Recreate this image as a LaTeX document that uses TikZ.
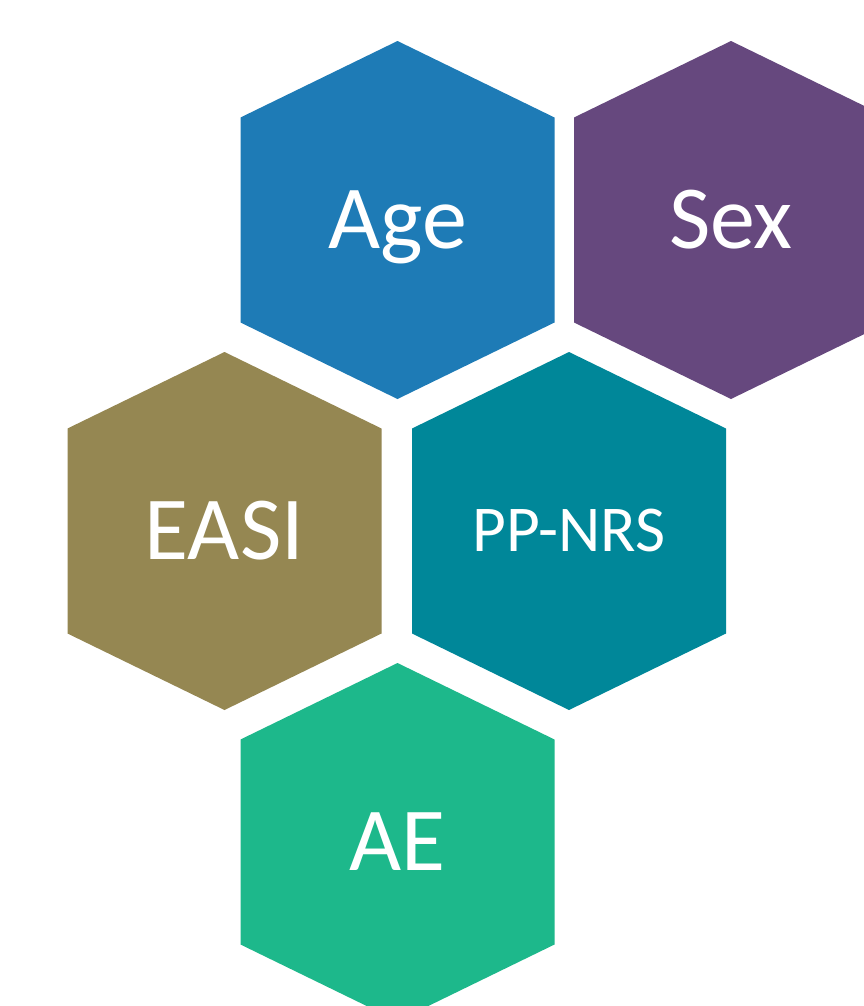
\documentclass[tikz,border=0pt]{standalone}
\usepackage{fontspec}
\setmainfont{Carlito}
\definecolor{ageblue}{HTML}{1E7BB6}
\definecolor{sexpurple}{HTML}{66487E}
\definecolor{easiolive}{HTML}{958752}
\definecolor{nrsteal}{HTML}{008799}
\definecolor{aegreen}{HTML}{1DB88B}
\tikzset{
    % Hexagon cells (pointy top)
    cell/.pic = {
        \path[pic actions] (0,-179) -- (157,-102.5) -- (157,102.5) -- (0,179)
            -- (-157,102.5) -- (-157,-102.5) -- cycle;
    },
    % Labels
    celltext/.style  = {text=white, inner sep=0pt, text depth=0pt,
        font=\fontsize{25.6}{30}\selectfont, text height=16.2pt},
    smalltext/.style = {celltext, font=\fontsize{18.6}{22}\selectfont, text height=11.8pt}
}

\begin{document}
\begin{tikzpicture}[x=0.01cm, y=-0.01cm]
    \useasboundingbox (0,0) rectangle (864,1006);
    \clip (0,0) rectangle (864,1006);
    \fill[white] (0,0) rectangle (864,1006);

    % Top row
    \pic[fill=ageblue] at (397.5,220) {cell};
    \pic[fill=sexpurple] at (731,220) {cell};
    \node (age) [celltext] at (397.5,220) {Age};
    \node (sex) [celltext] at (731,220) {Sex};

    % Middle row
    \pic[fill=easiolive] at (224.5,531) {cell};
    \pic[fill=nrsteal] at (569,531) {cell};
    \node (easi) [celltext] at (224.5,531) {EASI};
    \node (ppnrs) [smalltext] at (569,531) {PP-NRS};

    % Bottom row
    \pic[fill=aegreen] at (397.5,842) {cell};
    \node (ae) [celltext] at (397.5,842) {AE};
\end{tikzpicture}
\end{document}
